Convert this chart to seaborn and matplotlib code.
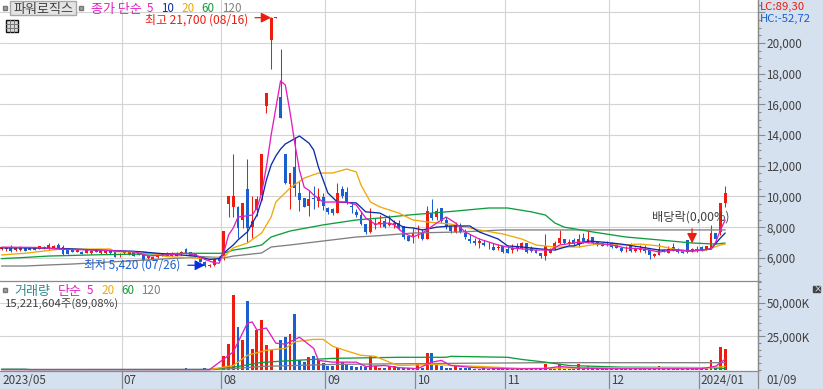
import matplotlib
matplotlib.use('Agg')
import matplotlib.pyplot as plt
from matplotlib.patches import Rectangle
from matplotlib.ticker import FuncFormatter, MultipleLocator
import pandas as pd
import seaborn as sns

# --- candles (bar by bar, 2023/05 ~ 2024/01) ---
opens = [6560, 6580, 6730, 6490, 6540, 6620, 6670, 6540, 6580, 6730, 6580, 6670, 6840, 6730, 6580, 6580, 6405, 6405, 6320, 6300,
         6560, 6300, 6300, 6515, 6450, 6290, 6300, 6190, 6450, 6320, 6190, 5970, 5885, 6035, 6125, 6340, 6145, 6145, 6230, 6580,
         6360, 6250, 6125, 5750, 5450, 5530, 6050,
         6100, 9500, 9300, 9300, 8450, 10500, 8000, 9100, 10100, 15900, 20200, 21600, 16500, 12800, 10800, 11900, 10200, 9900, 9400, 9900, 9700, 9950,
         9250, 9200, 8900, 10500, 10300, 9350, 9000, 8800, 8200, 7700, 8150, 8200, 8400,
         8150, 8150, 8250, 8050, 7400, 7350, 7400, 7600, 7200, 8900, 8650, 9250, 8450, 8050, 7700, 8100, 7600, 7200, 7100, 7000, 7000, 6750, 6700, 6650,
         6800, 6550, 6500, 6650, 6650, 6950, 6650, 6500, 6300, 6100, 6350, 6600, 7000, 7200, 6900,
         7150, 6900, 7300, 7050, 7350, 7050, 6950, 6940, 7000, 6850, 6650, 6550, 6900, 6450, 6500, 6600, 6500, 6100, 6200, 6500, 6350, 6700, 6500, 6450,
         7150, 6450, 6450, 6700, 6500, 6600, 7650, 7700, 9600]
highs = [6730, 6730, 6840, 6650, 6780, 6650, 6690, 6710, 6780, 6750, 6950, 6820, 6950, 6840, 6600, 6620, 6580, 6430, 6560, 6490,
         6580, 6470, 6470, 6540, 6470, 6300, 6450, 6430, 6470, 6340, 6210, 6170, 6100, 6300, 6320, 6360, 6360, 6360, 6430, 6620,
         6380, 6270, 6150, 5780, 5600, 6000, 6100,
         7750, 10000, 12750, 9400, 9600, 12450, 10000, 10000, 12800, 16750, 21700, 21700, 19600, 12800, 11500, 13900, 11000, 9900, 10400, 10700, 10550, 10200,
         9300, 9250, 10900, 10700, 10600, 9650, 9200, 9050, 8200, 9250, 8600, 8800, 8600,
         8800, 8500, 8450, 8050, 7400, 7950, 8150, 7900, 9400, 9850, 9250, 9250, 8650, 8050, 8350, 8300, 7900, 7550, 7300, 7300, 7150, 7050, 6950, 6900,
         6800, 6750, 6900, 7000, 7050, 7000, 6800, 6600, 6300, 7550, 6650, 7100, 7800, 7250, 7200,
         7300, 7550, 7600, 7800, 7350, 7100, 7000, 7100, 7050, 6900, 6700, 6800, 7000, 6700, 6850, 6850, 6550, 6300, 6950, 6600, 6750, 6950, 6650, 6500,
         7150, 6650, 6750, 6750, 6800, 8150, 7650, 9600, 10700]
lows = [6540, 6450, 6405, 6470, 6450, 6430, 6520, 6520, 6560, 6560, 6515, 6650, 6580, 6190, 6230, 6380, 6380, 6230, 6300, 6280,
        6380, 6280, 6280, 6280, 6060, 6080, 6280, 6170, 6125, 6170, 5840, 5950, 5860, 6010, 6100, 6120, 6120, 6120, 6210, 6250,
        6170, 6030, 5700, 5420, 5430, 5500, 5750,
        5850, 8650, 8650, 7300, 7950, 7050, 7300, 8700, 9800, 15450, 18300, 21600, 15100, 10800, 9200, 10000, 9050, 9300, 8700, 9200, 9300, 9100,
        8850, 8800, 8900, 9900, 9500, 8950, 8650, 8150, 7550, 7600, 7900, 8000, 7950,
        8050, 7950, 7800, 7200, 7100, 7000, 7300, 7150, 7200, 8450, 8450, 8300, 7900, 7600, 7650, 7650, 7250, 6950, 6850, 6650, 6750, 6600, 6500, 6500,
        6350, 6300, 6350, 6450, 6600, 6300, 6400, 6300, 6000, 5850, 6300, 6500, 6900, 6900, 6850,
        6850, 6700, 6950, 6950, 6900, 6800, 6750, 6800, 6650, 6650, 6400, 6400, 6400, 6400, 6400, 6300, 5950, 6050, 6200, 6400, 6300, 6450, 6350, 6300,
        6350, 6400, 6400, 6450, 6500, 6550, 7000, 7500, 9300]
closes = [6710, 6710, 6450, 6620, 6670, 6450, 6540, 6690, 6750, 6580, 6840, 6800, 6670, 6255, 6255, 6405, 6560, 6255, 6540, 6470,
          6405, 6450, 6450, 6300, 6080, 6300, 6430, 6405, 6145, 6190, 5865, 6145, 6080, 6275, 6300, 6145, 6340, 6340, 6405, 6275,
          6190, 6060, 5750, 5450, 5550, 5900, 5800,
          7750, 10000, 10000, 7950, 9550, 7950, 8400, 9850, 12800, 16750, 21650, 21700, 15100, 10900, 11500, 10550, 9750, 9300, 9850, 9850, 9950, 9400,
          9000, 8900, 10200, 10000, 9550, 9300, 8800, 8200, 7700, 8450, 8170, 8350, 8000,
          8300, 8300, 7950, 7350, 7100, 7600, 7450, 7200, 9050, 8600, 9050, 8400, 8050, 7750, 8150, 7700, 7350, 7100, 7000, 7100, 6850, 6800, 6500, 6700,
          6400, 6300, 6650, 6800, 6950, 6400, 6450, 6300, 6100, 6750, 6550, 6950, 7300, 6950, 7050,
          6900, 7200, 7050, 7250, 6950, 6850, 6800, 6950, 6700, 6650, 6450, 6600, 6450, 6650, 6600, 6450, 6200, 6250, 6550, 6450, 6600, 6500, 6400, 6300,
          6400, 6600, 6600, 6550, 6750, 7650, 7200, 9600, 10200]
volumes = [300] * 39 + [1100, 300, 300, 300, 1100, 300, 300, 300,
           10100, 19100, 55900, 31600, 22100, 50900, 15900, 29600, 37100, 18400, 14600, 300, 22100, 24100, 26600, 41600, 7100, 5800, 9400, 10100, 7100, 4900, 2600, 2600,
           16000, 5800, 4100, 3300, 2100, 3300, 2100, 10100, 2600, 1700, 1700, 2600, 3300, 1700,
           1100, 1100, 1700, 4100, 1700, 12300, 12300, 4100, 3300, 1700, 1100, 2600, 1700, 1500, 1200, 1000, 900, 1300, 900, 1400, 1000, 900, 800, 900, 1000, 800,
           800, 900, 800, 1000, 4600, 900, 1000, 4100, 1000, 800, 900, 4100, 1000, 2800,
           800, 700, 700, 800, 700, 800, 700, 700, 700, 800, 700, 700, 600, 700,
           3000, 700, 700, 700, 800, 700, 800, 700, 700, 700, 800,
           7600, 1800, 17000, 15200]

# --- moving averages (bar index, price) ---
ma5_idx = [0, 7, 14, 21, 28, 31, 35, 39, 41, 43, 45, 46, 47, 48, 49, 50, 53, 54, 55, 56, 57, 59, 60, 61, 62, 63, 64, 65, 66, 68, 73, 75, 77, 79, 82, 83, 85, 87, 89, 92, 94, 96, 98, 101, 105, 108, 113, 116, 118, 121, 122, 125, 129, 132, 136, 139, 142, 146, 150, 151, 152, 153]
ma5_val = [6700, 6680, 6550, 6500, 6400, 6130, 6190, 6300, 6200, 5900, 5680, 5650, 6350, 7490, 7950, 8660, 8790, 9250, 10230, 11920, 14000, 17530, 17260, 15500, 13480, 11700, 10600, 10400, 10100, 9640, 9640, 9450, 8600, 8200, 8270, 8150, 7620, 7360, 7620, 8270, 8660, 8270, 7690, 7230, 6840, 6640, 6510, 6510, 6840, 6970, 7035, 6970, 6840, 6640, 6580, 6380, 6510, 6450, 6580, 7030, 7820, 8470]
ma10_idx = [0, 5, 14, 21, 28, 35, 41, 44, 46, 47, 49, 50, 52, 54, 55, 56, 57, 58, 59, 60, 63, 65, 66, 67, 69, 71, 75, 77, 80, 82, 83, 85, 87, 89, 92, 95, 99, 101, 105, 107, 110, 114, 117, 120, 121, 124, 127, 131, 135, 139, 143, 146, 150, 152, 153]
ma10_val = [6650, 6650, 6600, 6500, 6430, 6250, 6120, 5900, 5950, 6320, 6840, 7170, 7700, 8790, 9770, 11070, 12050, 12640, 13090, 13420, 13940, 13480, 13030, 11920, 10230, 9640, 9580, 9000, 8920, 8600, 8340, 8000, 7950, 7820, 8000, 8080, 8080, 7690, 7230, 6780, 6710, 6580, 6510, 6780, 6780, 7100, 7030, 6900, 6710, 6510, 6510, 6450, 6580, 7300, 7620]
ma20_idx = [0, 5, 12, 23, 24, 30, 35, 42, 47, 49, 52, 55, 57, 58, 61, 64, 67, 70, 73, 75, 76, 78, 80, 84, 87, 90, 95, 101, 106, 110, 113, 117, 120, 122, 126, 131, 135, 139, 144, 149, 152, 153]
ma20_val = [6190, 6300, 6560, 6580, 6400, 6400, 6080, 5970, 6060, 6650, 6970, 7620, 8660, 9640, 10550, 11200, 11530, 11530, 11790, 11600, 10750, 9640, 9320, 8920, 8470, 8340, 8200, 7820, 7560, 7230, 6840, 6710, 6710, 6710, 6900, 6840, 6900, 6780, 6450, 6510, 6840, 6900]
ma60_idx = [0, 5, 10, 20, 40, 47, 49, 52, 55, 57, 61, 68, 75, 80, 86, 96, 103, 107, 112, 115, 117, 119, 120, 125, 132, 139, 146, 151, 153]
ma60_val = [5950, 6030, 6120, 6200, 6300, 6300, 6510, 6650, 6840, 7360, 7750, 8150, 8470, 8600, 8790, 9050, 9250, 9250, 9000, 8790, 8270, 8000, 7950, 7690, 7360, 7170, 6970, 6900, 6970]
ma120_idx = [0, 5, 10, 15, 38, 42, 47, 49, 55, 57, 61, 68, 75, 80, 87, 97, 106, 153]
ma120_val = [5470, 5470, 5540, 5600, 5990, 6090, 6000, 6120, 6320, 6710, 6840, 7100, 7360, 7450, 7620, 7690, 7820, 7820]

# --- moving averages on the volume panel (bar index, volume in K) ---
vol5_idx = [0, 44, 49, 52, 53, 54, 56, 58, 60, 63, 66, 67, 70, 75, 77, 81, 84, 88, 91, 93, 95, 100, 108, 115, 118, 122, 128, 148, 151, 153]
vol5_val = [300, 300, 13400, 34800, 35600, 29600, 31100, 19900, 19100, 24300, 16000, 7100, 5800, 5800, 2600, 3300, 1700, 1000, 5800, 7100, 3300, 1700, 800, 1000, 2600, 1400, 900, 900, 2800, 8000]
vol20_idx = [44, 49, 52, 56, 60, 62, 66, 68, 70, 73, 76, 79, 82, 84, 91, 101, 110, 127, 150, 153]
vol20_val = [300, 3300, 10900, 14600, 16000, 20900, 22700, 22700, 17600, 14100, 10900, 10100, 5800, 3300, 4100, 2600, 1100, 1700, 1700, 2600]
vol60_idx = [0, 5, 6, 44, 50, 55, 62, 70, 84, 94, 95, 107, 110, 115, 120, 131, 150, 153]
vol60_val = [600, 600, 300, 400, 2600, 5600, 7100, 8600, 9400, 9400, 10100, 9400, 7800, 5800, 3300, 2100, 1700, 1100]
vol120_idx = [0, 44, 49, 55, 70, 84, 115, 153]
vol120_val = [250, 250, 1000, 2600, 4100, 4600, 5400, 5400]

month_starts = [26, 47, 69, 88, 107, 129, 148]
month_labels = ['07', '08', '09', '10', '11', '12', '2024/01']
price_ticks = [6000, 8000, 10000, 12000, 14000, 16000, 18000, 20000, 22000]
volume_ticks = [25000, 50000]

UP = '#EE1C0E'
DOWN = '#1A5FD0'
PANEL = '#D6E1F0'
GRID = '#D3D3D3'
EDGE = '#8A8A8A'
TEXT = '#404040'
MA_COLORS = {'ma5': '#E020C0', 'ma10': '#0A2CA8', 'ma20': '#F0A808', 'ma60': '#0F9D3C', 'ma120': '#808080'}
W, H = 823, 389

sns.set_theme(style='white')
plt.rcParams['font.family'] = ['Noto Sans CJK KR', 'DejaVu Sans']

df = pd.DataFrame({'open': opens, 'high': highs, 'low': lows, 'close': closes, 'volume': volumes})
df['bar'] = df.index
df['side'] = ['up' if c >= o else 'down' for o, c in zip(df['open'], df['close'])]


def ma_frame(idx, val):
    return pd.DataFrame({'bar': idx, 'value': val})


def put(x, y, s, color=TEXT, size=8.4, **kw):
    # 픽셀 좌표로 글자 배치
    fig.text(x / W, 1 - y / H, s, color=color, fontsize=size, va='center', **kw)


fig = plt.figure(figsize=(W / 100, H / 100), dpi=100, facecolor=PANEL)
ax_p = fig.add_axes([0, (H - 281) / H, 758 / W, 281 / H], facecolor='white')
ax_v = fig.add_axes([0, (H - 370.5) / H, 758 / W, 89.5 / H], facecolor='white')

bar_w = 0.62
# 캔들
colors = [UP if s == 'up' else DOWN for s in df['side']]
ax_p.vlines(df['bar'], df['low'], df['high'], colors=colors, lw=0.75, zorder=3)
ax_p.bar(df['bar'], (df['close'] - df['open']).abs().clip(lower=50), bottom=df[['open', 'close']].min(axis=1),
         width=bar_w, color=colors, edgecolor='none', linewidth=0, zorder=3)

for name, idx, val in [('ma120', ma120_idx, ma120_val), ('ma60', ma60_idx, ma60_val), ('ma20', ma20_idx, ma20_val),
                       ('ma10', ma10_idx, ma10_val), ('ma5', ma5_idx, ma5_val)]:
    sns.lineplot(data=ma_frame(idx, val), x='bar', y='value', ax=ax_p, color=MA_COLORS[name], lw=0.95, zorder=4, errorbar=None)

# 거래량
sns.barplot(data=df, x='bar', y='volume', hue='side', palette={'up': UP, 'down': DOWN}, native_scale=True, dodge=False,
            width=bar_w, ax=ax_v, legend=False, errorbar=None, zorder=3, saturation=1, edgecolor='none', linewidth=0)
for name, idx, val in [('ma120', vol120_idx, vol120_val), ('ma60', vol60_idx, vol60_val), ('ma20', vol20_idx, vol20_val),
                       ('ma5', vol5_idx, vol5_val)]:
    sns.lineplot(data=ma_frame(idx, val), x='bar', y='value', ax=ax_v, color=MA_COLORS[name], lw=0.95, zorder=4, errorbar=None)

xlim = (-1.5 / 4.73, (758 - 1.5) / 4.73)
grid_x = [m - 0.6 for m in month_starts]
for ax in (ax_p, ax_v):
    ax.set_xlim(xlim)
    ax.set_xticks(grid_x)
    ax.tick_params(axis='x', length=0, labelbottom=False)
    ax.set_xlabel('')
    ax.set_ylabel('')
    ax.grid(True, color=GRID, lw=0.8, zorder=0)
    ax.set_axisbelow(True)
    ax.yaxis.tick_right()
    ax.tick_params(axis='y', which='major', direction='out', length=5, width=0.8, color=EDGE, labelcolor=TEXT,
                   labelsize=8.4, pad=1)
    ax.tick_params(axis='y', which='minor', direction='out', length=2.5, width=0.8, color=EDGE, right=True)
    for side, sp in ax.spines.items():
        sp.set_visible(side in ('right', 'top', 'bottom'))
        sp.set_color(EDGE)
        sp.set_linewidth(0.9)

ax_p.set_ylim(4494, 22801)
ax_p.set_yticks(price_ticks)
ax_p.yaxis.set_major_formatter(FuncFormatter(lambda v, _: '' if v > 20000 else f'{int(v):,}'))
ax_p.yaxis.set_minor_locator(MultipleLocator(500))
ax_p.spines['top'].set_visible(False)
ax_p.spines['bottom'].set_visible(False)

ax_v.set_ylim(-400, 66000)
ax_v.set_yticks(volume_ticks)
ax_v.yaxis.set_major_formatter(FuncFormatter(lambda v, _: f'{int(v):,}K'))
ax_v.yaxis.set_minor_locator(MultipleLocator(5000))

# 하단 날짜 띠
for m, label in zip(grid_x, month_labels):
    px = (m - xlim[0]) / (xlim[1] - xlim[0]) * 758
    fig.add_artist(plt.Line2D([px / W, px / W], [0, (H - 370.5) / H], color=EDGE, lw=0.9))
    put(px + 2, 380, label)
fig.add_artist(plt.Line2D([758 / W, 758 / W], [0, 1], color=EDGE, lw=0.9))
put(2, 380, '2023/05')
put(766, 380, '01/09')


# 상단 헤더
def px_box(x, y, w, h, fc, ec, lw=1.0):
    fig.add_artist(Rectangle((x / W, 1 - (y + h) / H), w / W, h / H, transform=fig.transFigure, fc=fc, ec=ec, lw=lw, zorder=6))


KR = 9.4
px_box(10, 1, 66, 14, '#E4E4E4', '#A8A8A8')
px_box(3, 6, 4, 4, '#A0A0A0', '#777777')
px_box(79, 6, 4, 4, '#A0A0A0', '#777777')
put(13, 9, '파워로직스', size=KR, zorder=7)
put(91, 9, '종가 단순', MA_COLORS['ma5'], size=KR)
put(147, 9, '5', MA_COLORS['ma5'])
put(161, 9, '10', MA_COLORS['ma10'])
put(181, 9, '20', MA_COLORS['ma20'])
put(201, 9, '60', MA_COLORS['ma60'])
put(222, 9, '120', MA_COLORS['ma120'])
px_box(6, 20, 12, 12, '#D8D8D8', '#111111')
for off in (4, 8):
    fig.add_artist(plt.Line2D([(6 + off) / W] * 2, [1 - 32 / H, 1 - 20 / H], color='#777777', lw=0.7, zorder=7))
    fig.add_artist(plt.Line2D([6 / W, 18 / W], [1 - (20 + off) / H] * 2, color='#777777', lw=0.7, zorder=7))

put(760, 7, 'LC:89,30', UP, size=8.2)
put(760, 19, 'HC:-52,72', DOWN, size=8.2)

# 주석
put(145, 20, '최고 21,700 (08/16)', UP, size=8.6)
put(84, 265, '최저 5,420 (07/26)', DOWN, size=8.6)
put(652, 217, '배당락(0,00%)', size=8.8)
head = dict(arrowstyle='-|>', lw=0.9, mutation_scale=15, shrinkA=0, shrinkB=0)
ax_p.annotate('', xy=(57.0, 21650), xytext=(53.6, 21650), annotation_clip=False, arrowprops=dict(head, color=UP), zorder=5)
ax_p.annotate('', xy=(43, 5520), xytext=(39.4, 5520), arrowprops=dict(head, color='#0A2CE0'), zorder=5)
ax_p.annotate('', xy=(146, 6950), xytext=(146, 7900), arrowprops=dict(head, color=UP), zorder=5)

# 거래량 헤더
px_box(3, 288, 4, 4, '#A0A0A0', '#777777')
put(14, 291, '거래량', '#2E8B8B', size=KR)
put(58, 291, '단순', MA_COLORS['ma5'], size=KR)
put(87, 291, '5', MA_COLORS['ma5'])
put(101, 291, '20', MA_COLORS['ma20'])
put(121, 291, '60', MA_COLORS['ma60'])
put(141, 291, '120', MA_COLORS['ma120'])
put(5, 304, '15,221,604주(89,08%)', size=8.2)
px_box(813, 286, 7, 6, '#444444', '#444444')
put(814, 289, '×', 'white', size=6, zorder=7)

fig.savefig('out.png', dpi=100, facecolor=PANEL)
